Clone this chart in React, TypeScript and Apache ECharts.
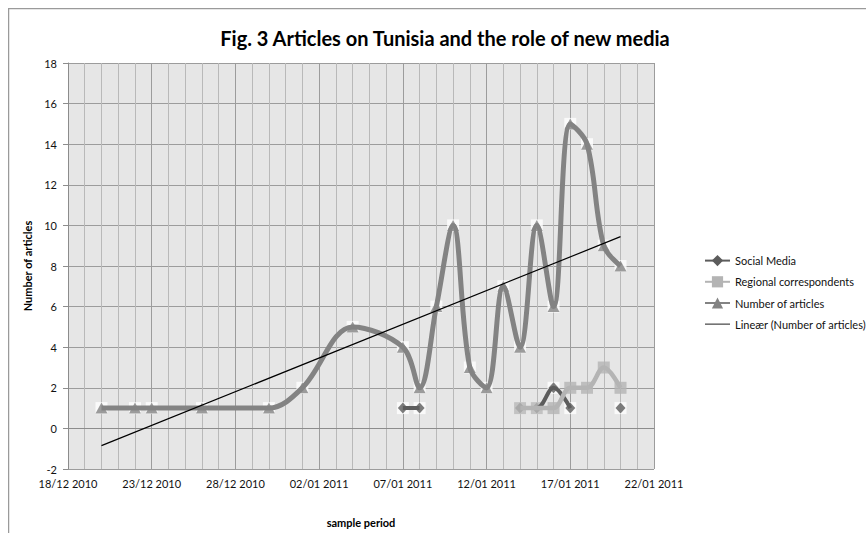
import React, { useEffect, useRef } from 'react';
import * as echarts from 'echarts';

// Sample period shown on the date axis
const periodStart = '2010-12-18';
const periodEnd = '2011-01-22';

// Days with coverage and the number of articles published that day
const articleDates = [
  '2010-12-20', '2010-12-22', '2010-12-23', '2010-12-26', '2010-12-30',
  '2011-01-01', '2011-01-04', '2011-01-07', '2011-01-08', '2011-01-09',
  '2011-01-10', '2011-01-11', '2011-01-12', '2011-01-13', '2011-01-14',
  '2011-01-15', '2011-01-16', '2011-01-17', '2011-01-18', '2011-01-19',
  '2011-01-20',
];
const numberOfArticles = [1, 1, 1, 1, 1, 2, 5, 4, 2, 6, 10, 3, 2, 7, 4, 10, 6, 15, 14, 9, 8];

// Same days; null where the category was not counted
const socialMedia = [
  null, null, null, null, null, null, null, 1, 1, null, null, null, null, null,
  1, 1, 2, 1, null, null, 1,
];
const regionalCorrespondents = [
  null, null, null, null, null, null, null, null, null, null, null, null, null, null,
  1, 1, 1, 2, 2, 3, 2,
];

const seriesNames = [
  'Social Media',
  'Regional correspondents',
  'Number of articles',
  'Lineær (Number of articles)',
];
const chartTitle = 'Fig. 3 Articles on Tunisia and the role of new media';
const xAxisTitle = 'sample period';
const yAxisTitle = 'Number of articles';

const FONT = 'Lato, "Open Sans", "Liberation Sans", sans-serif';
const DAY_MS = 86400000;
const startMs = Date.parse(periodStart + 'T00:00:00Z');
const dayIndex = (iso: string) => Math.round((Date.parse(iso + 'T00:00:00Z') - startMs) / DAY_MS);
const pad = (n: number) => (n < 10 ? '0' + n : String(n));
const formatDay = (d: number) => {
  const t = new Date(startMs + Math.round(d) * DAY_MS);
  return `${pad(t.getUTCDate())}/${pad(t.getUTCMonth() + 1)} ${t.getUTCFullYear()}`;
};

const toLine = (values: (number | null)[]) =>
  articleDates.map((d, i) => [dayIndex(d), values[i] == null ? '-' : values[i]]);
const toPoints = (values: (number | null)[]) =>
  articleDates
    .map((d, i) => [dayIndex(d), values[i]])
    .filter((p) => p[1] != null) as number[][];

// Least-squares trend of the article counts over the sample days
function linearTrend() {
  const xs = articleDates.map(dayIndex);
  const ys = numberOfArticles;
  const n = xs.length;
  const mx = xs.reduce((a, b) => a + b, 0) / n;
  const my = ys.reduce((a, b) => a + b, 0) / n;
  let sxy = 0;
  let sxx = 0;
  for (let i = 0; i < n; i++) {
    sxy += (xs[i] - mx) * (ys[i] - my);
    sxx += (xs[i] - mx) * (xs[i] - mx);
  }
  const slope = sxy / sxx;
  const icpt = my - slope * mx;
  const x0 = xs[0];
  const x1 = xs[n - 1];
  return [
    [x0, icpt + slope * x0],
    [x1, icpt + slope * x1],
  ];
}

const COLORS = {
  social: '#5c5c5c',
  regional: '#b4b4b4',
  articles: '#838383',
  trend: '#000000',
};

export default function App() {
  const ref = useRef<HTMLDivElement>(null);

  useEffect(() => {
    if (!ref.current) return;
    const chart = echarts.init(ref.current, undefined, { renderer: 'svg' });

    const markerBack = (values: (number | null)[]) => ({
      type: 'scatter',
      data: toPoints(values),
      symbol: 'rect',
      symbolSize: 12,
      itemStyle: { color: '#ffffff' },
      silent: true,
    });

    chart.setOption({
      animation: false,
      backgroundColor: '#ffffff',
      textStyle: { fontFamily: FONT },
      title: {
        text: chartTitle,
        left: 432,
        top: 15,
        textAlign: 'center',
        textStyle: { fontFamily: FONT, fontSize: 20, fontWeight: 'bold', color: '#000' },
      },
      graphic: [
        { type: 'line', shape: { x1: 0, y1: 0.5, x2: 858, y2: 0.5 }, style: { stroke: '#9a9a9a', lineWidth: 1.5 } },
        { type: 'line', shape: { x1: 0.5, y1: 0, x2: 0.5, y2: 525 }, style: { stroke: '#9a9a9a', lineWidth: 1.5 } },
      ],
      legend: {
        orient: 'vertical',
        left: 691,
        top: 242,
        itemWidth: 25,
        itemHeight: 14,
        itemGap: 10,
        data: [
          { name: seriesNames[0] },
          { name: seriesNames[1] },
          { name: seriesNames[2] },
          { name: seriesNames[3], icon: 'path://M0,0H28V1H0Z' },
        ],
        textStyle: { fontFamily: FONT, fontSize: 11, color: '#111' },
      },
      grid: {
        left: 60,
        right: 212,
        top: 55,
        bottom: 28,
        show: true,
        backgroundColor: '#e6e6e6',
        borderWidth: 0,
      },
      xAxis: {
        type: 'value',
        min: 0,
        max: dayIndex(periodEnd),
        interval: 5,
        name: xAxisTitle,
        nameLocation: 'middle',
        nameGap: 48,
        nameTextStyle: { fontFamily: FONT, fontSize: 11, fontWeight: 'bold', color: '#000' },
        axisLine: { onZero: true, lineStyle: { color: '#8c8c8c', width: 1 } },
        axisTick: { show: false },
        minorTick: { show: false, splitNumber: 5 },
        axisLabel: {
          margin: 9,
          fontSize: 11,
          color: '#111',
          fontFamily: FONT,
          showMinLabel: true,
          showMaxLabel: true,
          formatter: (v: number) => formatDay(v),
        },
        splitLine: { show: true, lineStyle: { color: '#9c9c9c', width: 1 } },
        minorSplitLine: { show: true, lineStyle: { color: '#b9b9b9', width: 1 } },
      },
      yAxis: {
        type: 'value',
        min: -2,
        max: 18,
        interval: 2,
        name: yAxisTitle,
        nameLocation: 'middle',
        nameGap: 28,
        nameTextStyle: { fontFamily: FONT, fontSize: 11, fontWeight: 'bold', color: '#000' },
        axisLine: { show: true, lineStyle: { color: '#8c8c8c', width: 1 } },
        axisTick: { show: true, length: 5, lineStyle: { color: '#8c8c8c' } },
        axisLabel: { margin: 11, fontSize: 11, color: '#111', fontFamily: FONT },
        splitLine: { show: true, lineStyle: { color: '#9c9c9c', width: 1 } },
      },
      series: [
        {
          name: seriesNames[0],
          type: 'line',
          data: toLine(socialMedia),
          smooth: 0.35,
          showSymbol: false,
          symbol: 'diamond',
          lineStyle: { color: COLORS.social, width: 4 },
          itemStyle: { color: COLORS.social },
        },
        {
          name: seriesNames[1],
          type: 'line',
          data: toLine(regionalCorrespondents),
          smooth: 0.35,
          showSymbol: false,
          symbol: 'rect',
          lineStyle: { color: COLORS.regional, width: 4.5 },
          itemStyle: { color: COLORS.regional },
        },
        {
          name: seriesNames[2],
          type: 'line',
          data: toLine(numberOfArticles),
          smooth: 0.35,
          showSymbol: false,
          symbol: 'triangle',
          lineStyle: { color: COLORS.articles, width: 5 },
          itemStyle: { color: COLORS.articles },
        },
        markerBack(socialMedia),
        markerBack(numberOfArticles),
        {
          type: 'scatter',
          data: toPoints(socialMedia),
          symbol: 'diamond',
          symbolSize: [10, 11],
          itemStyle: { color: COLORS.social },
          silent: true,
        },
        {
          type: 'scatter',
          data: toPoints(regionalCorrespondents),
          symbol: 'rect',
          symbolSize: 12,
          itemStyle: { color: COLORS.regional },
          silent: true,
        },
        {
          type: 'scatter',
          data: toPoints(numberOfArticles),
          symbol: 'triangle',
          symbolSize: [12, 11],
          itemStyle: { color: COLORS.articles },
          silent: true,
        },
        {
          name: seriesNames[3],
          type: 'line',
          data: linearTrend(),
          showSymbol: false,
          symbol: 'none',
          lineStyle: { color: COLORS.trend, width: 1.2 },
          itemStyle: { color: COLORS.trend },
        },
      ],
    });

    return () => chart.dispose();
  }, []);

  // Absolutely placed so the page never grows past the window
  return (
    <div
      ref={ref}
      style={{ position: 'absolute', left: 8, top: 8, width: 858, height: 525 }}
    />
  );
}
